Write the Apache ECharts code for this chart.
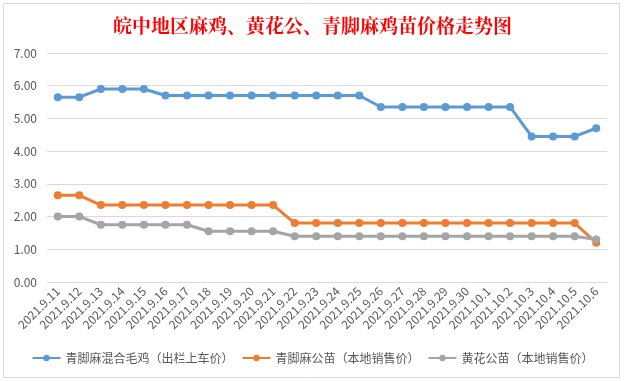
<!DOCTYPE html>
<html><head><meta charset="utf-8">
<script src="https://cdn.jsdelivr.net/npm/echarts@6/dist/echarts.min.js"></script>
<style>html,body{margin:0;padding:0;background:#fff}#c{width:625px;height:381px}</style>
</head><body><div id="c"></div>
<script>
const categories = ['2021.9.11','2021.9.12','2021.9.13','2021.9.14','2021.9.15','2021.9.16','2021.9.17','2021.9.18','2021.9.19','2021.9.20','2021.9.21','2021.9.22','2021.9.23','2021.9.24','2021.9.25','2021.9.26','2021.9.27','2021.9.28','2021.9.29','2021.9.30','2021.10.1','2021.10.2','2021.10.3','2021.10.4','2021.10.5','2021.10.6'];
const seriesNames = ['青脚麻混合毛鸡（出栏上车价）','青脚麻公苗（本地销售价）','黄花公苗（本地销售价）'];
const blueValues = [5.65,5.65,5.9,5.9,5.9,5.7,5.7,5.7,5.7,5.7,5.7,5.7,5.7,5.7,5.7,5.35,5.35,5.35,5.35,5.35,5.35,5.35,4.45,4.45,4.45,4.7];
const orangeValues = [2.65,2.65,2.35,2.35,2.35,2.35,2.35,2.35,2.35,2.35,2.35,1.8,1.8,1.8,1.8,1.8,1.8,1.8,1.8,1.8,1.8,1.8,1.8,1.8,1.8,1.2];
const grayValues = [2.0,2.0,1.75,1.75,1.75,1.75,1.75,1.55,1.55,1.55,1.55,1.4,1.4,1.4,1.4,1.4,1.4,1.4,1.4,1.4,1.4,1.4,1.4,1.4,1.4,1.3];
const titleText = '皖中地区麻鸡、黄花公、青脚麻鸡苗价格走势图';

const colors = ['#5B9BD5','#ED7D31','#A5A5A5'];
const font = '"Noto Sans CJK SC", "Microsoft YaHei", sans-serif';
const chart = echarts.init(document.getElementById('c'));
const mk = (name, data, color) => ({
  name, type: 'line', data, color,
  symbol: 'circle', symbolSize: 8,
  lineStyle: {width: 3, color},
  itemStyle: {color},
  animation: false
});
chart.setOption({
  animation: false,
  graphic: [{type:'rect', shape:{x:3.5,y:3.5,width:616,height:374}, style:{fill:'none', stroke:'#d9d9d9', lineWidth:1}, silent:true}],
  title: {text: titleText, left: 'center', top: 11,
    textStyle: {color:'#FF0000', fontSize: 19, fontWeight:'bold', fontFamily:'"Noto Serif CJK SC", "Noto Sans CJK SC", serif'}},
  legend: {bottom: 12, left:'center', itemWidth: 28, itemHeight: 8, itemGap: 8,
    textStyle:{color:'#595959', fontSize: 12, fontFamily: font},
    data: seriesNames},
  grid: {left: 47, right: 18, top: 53, bottom: 99},
  xAxis: {type:'category', data: categories, boundaryGap: true,
    axisLine:{lineStyle:{color:'#d9d9d9'}}, axisTick:{show:false},
    axisLabel:{rotate:45, interval:0, color:'#595959', fontSize:12, fontFamily: font, margin: 7}},
  yAxis: {type:'value', min:0, max:7, interval:1,
    axisLine:{show:false}, axisTick:{show:false},
    splitLine:{lineStyle:{color:'#d9d9d9'}},
    axisLabel:{formatter: v => v.toFixed(2), color:'#595959', fontSize:12, fontFamily: font, margin: 10}},
  series: [mk(seriesNames[0], blueValues, colors[0]), mk(seriesNames[1], orangeValues, colors[1]), mk(seriesNames[2], grayValues, colors[2])]
});
</script></body></html>
